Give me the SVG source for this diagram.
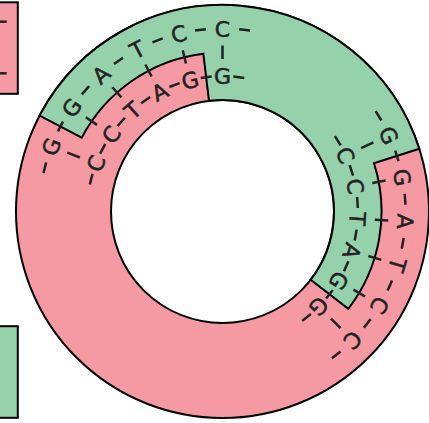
<svg xmlns="http://www.w3.org/2000/svg" width="429" height="423" viewBox="0 0 429 423">
<style>
.ring{stroke:#000;stroke-width:2;stroke-linejoin:miter}
.pink{fill:#F599A3}
.green{fill:#95D1AB}
.b{font-family:"DejaVu Sans","Liberation Sans",sans-serif;font-size:22px;fill:#222;stroke:#222;stroke-width:0.5;text-anchor:middle}
.d{stroke:#222;stroke-width:2.5;fill:none}
</style>
<rect width="429" height="423" fill="#fff"/>
<g id="legend">
<rect class="ring pink" x="-10" y="2.3" width="27.8" height="91.5"/>
<line class="d" x1="0" y1="21.7" x2="6.7" y2="21.7"/>
<line class="d" x1="0" y1="73.3" x2="6.7" y2="73.3"/>
<rect class="ring green" x="-10" y="326.2" width="27.8" height="91.6"/>
</g>
<g id="ring">
<path class="ring pink" fill-rule="evenodd" d="M 429 211.5 A 206.5 206.5 0 1 1 16 211.5 A 206.5 206.5 0 1 1 429 211.5 Z M 334 211.5 A 111.5 111.5 0 1 0 111 211.5 A 111.5 111.5 0 1 0 334 211.5 Z"/>
<path class="ring green" d="M 39.6 115.6 A 206.5 206.5 0 0 1 419.3 148.8 L 374.0 163.2 A 159 159 0 0 1 348.3 308.8 L 310.7 279.7 A 111.5 111.5 0 0 0 209.0 100.8 L 203.3 53.7 A 159 159 0 0 0 81.7 137.7 Z"/>
</g>
<g id="site-top-left" transform="translate(222.5 211.5)">
<g id="tl-top-strand">
<text class="b" transform="rotate(-69.25)" y="-175">G</text>
<text class="b" transform="rotate(-55.4)" y="-175">G</text>
<text class="b" transform="rotate(-41.55)" y="-175">A</text>
<text class="b" transform="rotate(-27.7)" y="-175">T</text>
<text class="b" transform="rotate(-13.85)" y="-175">C</text>
<text class="b" transform="rotate(0)" y="-175">C</text>
</g>
<g id="tl-bottom-strand">
<text class="b" transform="rotate(-69.25)" y="-127.25">C</text>
<text class="b" transform="rotate(-55.4)" y="-127.25">C</text>
<text class="b" transform="rotate(-41.55)" y="-127.25">T</text>
<text class="b" transform="rotate(-27.7)" y="-127.25">A</text>
<text class="b" transform="rotate(-13.85)" y="-127.25">G</text>
<text class="b" transform="rotate(0)" y="-127.25">G</text>
</g>
<g id="tl-bonds" class="d">
<path d="M-5.5 -183H5.5M-5.5 -135.25H5.5" transform="rotate(-76.175)"/>
<path d="M-5.5 -183H5.5M-5.5 -135.25H5.5" transform="rotate(-62.325)"/>
<path d="M-5.5 -183H5.5M-5.5 -135.25H5.5" transform="rotate(-48.475)"/>
<path d="M-5.5 -183H5.5M-5.5 -135.25H5.5" transform="rotate(-34.625)"/>
<path d="M-5.5 -183H5.5M-5.5 -135.25H5.5" transform="rotate(-20.775)"/>
<path d="M-5.5 -183H5.5M-5.5 -135.25H5.5" transform="rotate(-6.925)"/>
<path d="M-5.5 -183H5.5M-5.5 -135.25H5.5" transform="rotate(6.925)"/>
<path d="M0 -152.5V-166" transform="rotate(-69.25)"/>
<path d="M0 -152.5V-166" transform="rotate(-55.4)"/>
<path d="M0 -152.5V-166" transform="rotate(-41.55)"/>
<path d="M0 -152.5V-166" transform="rotate(-27.7)"/>
<path d="M0 -152.5V-166" transform="rotate(-13.85)"/>
<path d="M0 -152.5V-166" transform="rotate(0)"/>
</g>
</g>
<g id="site-right" transform="translate(222.5 211.5)">
<g id="r-top-strand">
<text class="b" transform="rotate(65.4)" y="-175">G</text>
<text class="b" transform="rotate(79.25)" y="-175">G</text>
<text class="b" transform="rotate(93.1)" y="-175">A</text>
<text class="b" transform="rotate(106.95)" y="-175">T</text>
<text class="b" transform="rotate(120.8)" y="-175">C</text>
<text class="b" transform="rotate(134.65)" y="-175">C</text>
</g>
<g id="r-bottom-strand">
<text class="b" transform="rotate(65.4)" y="-127.25">C</text>
<text class="b" transform="rotate(79.25)" y="-127.25">C</text>
<text class="b" transform="rotate(93.1)" y="-127.25">T</text>
<text class="b" transform="rotate(106.95)" y="-127.25">A</text>
<text class="b" transform="rotate(120.8)" y="-127.25">G</text>
<text class="b" transform="rotate(134.65)" y="-127.25">G</text>
</g>
<g id="r-bonds" class="d">
<path d="M-5.5 -183H5.5M-5.5 -135.25H5.5" transform="rotate(58.475)"/>
<path d="M-5.5 -183H5.5M-5.5 -135.25H5.5" transform="rotate(72.325)"/>
<path d="M-5.5 -183H5.5M-5.5 -135.25H5.5" transform="rotate(86.175)"/>
<path d="M-5.5 -183H5.5M-5.5 -135.25H5.5" transform="rotate(100.025)"/>
<path d="M-5.5 -183H5.5M-5.5 -135.25H5.5" transform="rotate(113.875)"/>
<path d="M-5.5 -183H5.5M-5.5 -135.25H5.5" transform="rotate(127.725)"/>
<path d="M-5.5 -183H5.5M-5.5 -135.25H5.5" transform="rotate(141.575)"/>
<path d="M0 -152.5V-166" transform="rotate(65.4)"/>
<path d="M0 -152.5V-166" transform="rotate(79.25)"/>
<path d="M0 -152.5V-166" transform="rotate(93.1)"/>
<path d="M0 -152.5V-166" transform="rotate(106.95)"/>
<path d="M0 -152.5V-166" transform="rotate(120.8)"/>
<path d="M0 -152.5V-166" transform="rotate(134.65)"/>
</g>
</g>
</svg>
